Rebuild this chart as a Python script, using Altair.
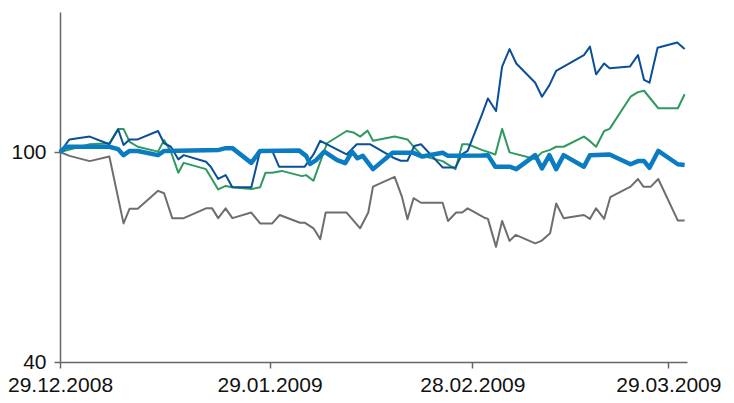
import altair as alt
import pandas as pd

START = "2008-12-29"
series_names = ["Gray", "Green", "DarkBlue", "LightBlue"]
series_colors = ["#6e6e6e", "#2f9a5f", "#0a4f99", "#0a7cc2"]
series_widths = [2, 2, 2, 4.5]

# x values: days since 29.12.2008 ; y values: index
gray_days = [0, 1.4, 4.4, 7.3, 9.4, 10.3, 11.5, 14.5, 15.4, 16.6, 18.3, 21.6, 22.5, 23.4, 24.5, 25.5, 28.3, 29.6,
             31.4, 32.5, 35.5, 36.2, 37.5, 38.5, 39.3, 42.4, 44.4, 45.6, 46.3, 49.5, 50.6, 51.4, 52.3, 53.4, 56.6,
             57.4, 58.6, 59.5, 60.3, 62.7, 63.3, 64.5, 65.4, 66.5, 67.4, 70.3, 71.2, 72.5, 73.4, 74.5, 77.5, 78.4,
             79.3, 80.5, 81.4, 84.4, 85.5, 86.3, 87.4, 88.5, 91.4, 92.4]
gray_vals = [100.0, 98.9, 97.4, 98.7, 79.6, 83.8, 83.8, 88.9, 88.2, 81.1, 81.1, 83.9, 83.9, 81.1, 83.9, 81.1, 82.7, 79.6,
             79.6, 82.0, 79.8, 79.8, 78.2, 75.1, 82.7, 82.7, 78.2, 82.7, 90.1, 92.9, 87.1, 80.8, 86.8, 85.5, 85.5,
             80.3, 82.7, 82.7, 83.9, 81.3, 80.9, 72.9, 80.3, 74.6, 76.3, 73.9, 74.6, 76.8, 85.3, 81.1, 82.0, 80.9,
             83.9, 80.9, 87.1, 90.1, 92.3, 90.1, 90.1, 92.3, 80.4, 80.4]

dblue_days = [0, 1.4, 4.4, 7.3, 8.6, 9.4, 10.3, 11.5, 14.5, 15.4, 16.4, 17.5, 18.3, 21.6, 22.3, 23.4, 24.5, 25.5, 28.3,
              29.6, 31.4, 32.4, 36.2, 37.5, 38.5, 42.4, 43.9, 45.9, 49.5, 50.4, 51.4, 52.4, 53.4, 56.6, 58.5, 59.5,
              60.3, 62.4, 63.3, 64.5, 65.4, 66.5, 67.5, 70.3, 71.3, 72.4, 73.4, 77.5, 78.4, 79.3, 80.5, 81.3, 84.3,
              85.5, 86.4, 87.2, 88.4, 91.3, 92.4]
dblue_vals = [100.0, 103.6, 104.4, 102.2, 106.5, 102.0, 103.6, 103.6, 106.0, 102.5, 101.5, 97.9, 99.1, 97.2, 95.8, 92.3,
              93.4, 89.9, 89.9, 100.3, 100.3, 95.8, 95.8, 99.3, 103.2, 99.3, 102.2, 102.2, 98.2, 97.5, 97.5, 101.7,
              102.2, 95.6, 95.6, 99.4, 100.3, 110.6, 115.3, 111.7, 124.4, 129.4, 125.3, 119.8, 115.8, 119.1, 123.2,
              127.7, 130.1, 122.2, 125.3, 123.9, 124.4, 127.7, 120.6, 119.8, 129.8, 131.3, 129.4]

green_days = [0, 4.4, 7.3, 8.6, 9.4, 10.3, 11.5, 14.5, 15.4, 16.4, 17.5, 18.3, 21.6, 23.4, 24.5, 25.5, 28.3, 29.6, 30.4,
              31.4, 32.8, 35.8, 36.4, 37.5, 39.5, 42.4, 43.4, 44.4, 45.5, 46.3, 49.5, 51.4, 52.4, 53.6, 56.6, 58.5,
              59.5, 60.3, 62.4, 64.4, 65.4, 66.5, 70.3, 71.3, 72.5, 73.4, 74.5, 77.5, 78.4, 79.3, 80.5, 81.3, 84.4,
              85.5, 86.4, 88.5, 91.4, 92.4]
green_vals = [100.0, 102.2, 102.5, 106.6, 106.6, 102.9, 101.5, 100.1, 103.4, 100.1, 94.1, 96.9, 95.1, 89.3, 90.3, 89.9,
              89.4, 89.9, 94.1, 94.1, 94.6, 93.1, 93.4, 91.8, 102.5, 106.0, 105.6, 104.4, 106.1, 103.2, 104.4, 103.6,
              101.3, 98.9, 97.4, 95.1, 102.2, 102.2, 100.6, 99.3, 106.6, 99.9, 98.0, 99.9, 100.6, 101.5, 101.5, 104.4,
              103.1, 101.5, 106.0, 106.6, 115.8, 117.1, 117.5, 112.5, 112.5, 116.5]

lblue_days = [0, 0.9, 7.3, 8.6, 9.4, 10.3, 11.5, 14.5, 15.4, 23.5, 24.5, 25.5, 28.3, 29.6, 35.4, 36.4, 37.0, 37.9, 39.1,
              41.0, 42.2, 43.2, 44.0, 44.8, 46.3, 49.2, 52.2, 53.6, 56.6, 57.4, 62.4, 63.3, 64.4, 66.5, 67.5, 70.3,
              71.3, 72.4, 73.4, 74.5, 77.5, 78.4, 81.3, 84.4, 85.5, 86.4, 87.2, 88.5, 91.4, 92.4]
lblue_vals = [100.0, 101.5, 101.5, 100.8, 99.1, 100.3, 100.3, 99.1, 100.3, 100.6, 101.1, 101.1, 96.9, 100.3, 100.4, 98.9,
              96.6, 97.7, 100.1, 97.7, 96.8, 100.1, 98.2, 98.9, 95.1, 99.8, 99.8, 98.7, 99.8, 98.9, 99.0, 99.1, 95.8,
              95.8, 95.1, 99.1, 95.3, 99.1, 95.1, 99.1, 95.8, 99.1, 99.3, 96.5, 97.4, 97.4, 95.5, 100.3, 96.5, 96.3]

tick_dates = ["2008-12-29", "2009-01-29", "2009-02-28", "2009-03-29"]
y_ticks = [40, 100]

frames = []
for name, d, v in [("Gray", gray_days, gray_vals), ("Green", green_days, green_vals),
                   ("DarkBlue", dblue_days, dblue_vals), ("LightBlue", lblue_days, lblue_vals)]:
    f = pd.DataFrame({"day": d, "value": v})
    f["date"] = (pd.Timestamp(START) + pd.to_timedelta(f["day"], unit="D")).dt.strftime("%Y-%m-%dT%H:%M:%S")
    f["series"] = name
    frames.append(f)

FONT = "Liberation Sans"
x_dom = [pd.Timestamp(START).strftime("%Y-%m-%dT%H:%M:%S"),
         (pd.Timestamp(START) + pd.Timedelta(days=92.75)).strftime("%Y-%m-%dT%H:%M:%S")]
tick_ts = [pd.Timestamp(t).strftime("%Y-%m-%dT%H:%M:%S") for t in tick_dates]

x_enc = alt.X("date:T", scale=alt.Scale(domain=x_dom, nice=False),
              axis=alt.Axis(values=tick_ts, format="%d.%m.%Y", title=None, grid=False,
                            labelFont=FONT, labelFontSize=21, labelColor="#111", labelFlush=False,
                            labelPadding=6, tickSize=6, tickColor="#666", domainColor="#666",
                            domainWidth=1.5, tickWidth=1.5, labelOverlap=False))
y_enc = alt.Y("value:Q", scale=alt.Scale(domain=[40, 140], nice=False, zero=False),
              axis=alt.Axis(values=y_ticks, title=None, grid=False, labelFont=FONT, labelFontSize=21,
                            labelColor="#111", labelPadding=8, tickSize=6, tickColor="#666",
                            domainColor="#666", domainWidth=1.5, tickWidth=1.5))

layers = []
for f, name, col, w in zip(frames, series_names, series_colors, series_widths):
    layers.append(alt.Chart(f).mark_line(color=col, strokeWidth=w, strokeJoin="round")
                  .encode(x=x_enc, y=y_enc, order="day:Q"))

chart = alt.layer(*layers).properties(
    width=627, height=350,
    autosize=alt.AutoSizeParams(type="none"),
    padding={"left": 52, "top": 4, "right": 39, "bottom": 33},
).configure_view(stroke=None)

chart.save("out.html", embed_options={"renderer": "svg", "actions": False})
